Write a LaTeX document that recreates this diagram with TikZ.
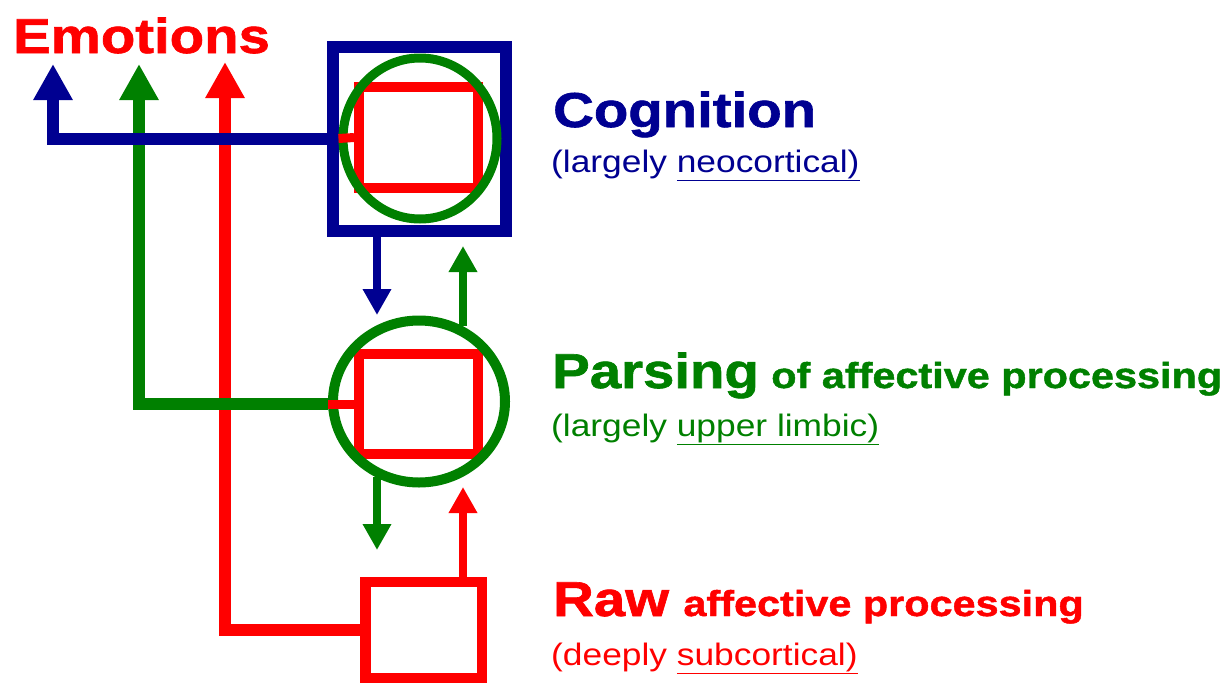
\documentclass[tikz,border=0pt]{standalone}
\usepackage{fontspec}
\setmainfont{Liberation Sans}[FakeStretch=1.14]
\newfontfamily\heavyfont{Liberation Sans Bold}[FakeStretch=1.15,FakeBold=1.3]
\usetikzlibrary{arrows.meta,shapes.geometric,positioning}
\definecolor{cogblue}{RGB}{0,0,145}
\definecolor{pargreen}{RGB}{0,128,0}
\definecolor{rawred}{RGB}{255,0,0}
\tikzset{
  bigarrow/.style={line width=12pt,-{Triangle[length=36pt,width=37pt]}},
  smallarrow/.style={line width=8pt,-{Triangle[length=26pt,width=27pt]}},
  core/.style={draw=rawred,line width=10pt,rectangle,inner sep=0pt,minimum width=119pt,minimum height=101pt},
  ring/.style={draw=pargreen,ellipse,inner sep=0pt},
  title/.style={anchor=base west,inner sep=0pt,font=\fontsize{49}{55}\heavyfont},
  rest/.style={anchor=base west,inner sep=0pt,font=\fontsize{36}{40}\heavyfont},
  subtitle/.style={anchor=base west,inner sep=0pt,font=\fontsize{31}{36}\selectfont}
}
\begin{document}
\begin{tikzpicture}[x=1pt,y=-1pt]
\useasboundingbox (0,0) rectangle (1229,683);

\node[title,text=rawred] (emotions) at (13,53) {Emotions};
\coordinate (emoblue)  at (53,64);
\coordinate (emogreen) at (139,64);
\coordinate (emored)   at (225,62);

\node[draw=cogblue,line width=12pt,rectangle,inner sep=0pt,minimum width=173pt,minimum height=184pt] (cogbox) at (419.5,139) {};
\node[core] (cogcore) at (418.5,137.5) {};
\node[ring,line width=9pt,minimum width=154pt,minimum height=161pt] (cogring) at (420,138.5) {};
\draw[rawred,line width=9pt] (cogring.west) -- (cogcore.west);

\node[core,minimum height=100pt] (parcore) at (418.5,404) {};
\node[ring,line width=10pt,minimum width=172pt,minimum height=162pt] (parring) at (419,401.5) {};
\draw[rawred,line width=9pt] (parcore.west -| parring.west) -- ([xshift=7]parcore.west);

\node[draw=rawred,line width=10.5pt,rectangle,inner sep=0pt,minimum width=116.5pt,minimum height=96pt] (rawbox) at (423.75,630) {};

\coordinate (cogdown) at (377,315);
\coordinate (parup)   at (463,246);
\coordinate (pardown) at (377,550);
\coordinate (rawup)   at (463,487);

\draw[bigarrow,rawred]   (rawbox.west) -| (emored);
\draw[bigarrow,pargreen] (parcore.west -| parring.west) -| (emogreen);
\draw[bigarrow,cogblue]  (cogbox.west) -| (emoblue);

\draw[smallarrow,cogblue]  (cogbox.south -| cogdown) -- (cogdown);
\draw[smallarrow,pargreen] (parring.60 -| parup) -- (parup);
\draw[smallarrow,pargreen] (parring.240 -| pardown) -- (pardown);
\draw[smallarrow,rawred]   (rawbox.north -| rawup) -- (rawup);

\node[title,text=cogblue] (cogtitle) at (553,127) {Cognition};
\node[subtitle,text=cogblue] (cogsub) at (551,172) {(largely \underline{neocortical)}};

\node[title,text=pargreen] (partitle) at (552,388) {Parsing};
\node[rest,text=pargreen] (parrest) at ([xshift=12]partitle.base east) {of affective processing};
\node[subtitle,text=pargreen] (parsub) at (551,436) {(largely \underline{upper limbic)}};

\node[title,text=rawred] (rawtitle) at (553,616) {Raw};
\node[rest,text=rawred] (rawrest) at ([xshift=14]rawtitle.base east) {affective processing};
\node[subtitle,text=rawred] (rawsub) at (551,665) {(deeply \underline{subcortical)}};
\end{tikzpicture}
\end{document}
